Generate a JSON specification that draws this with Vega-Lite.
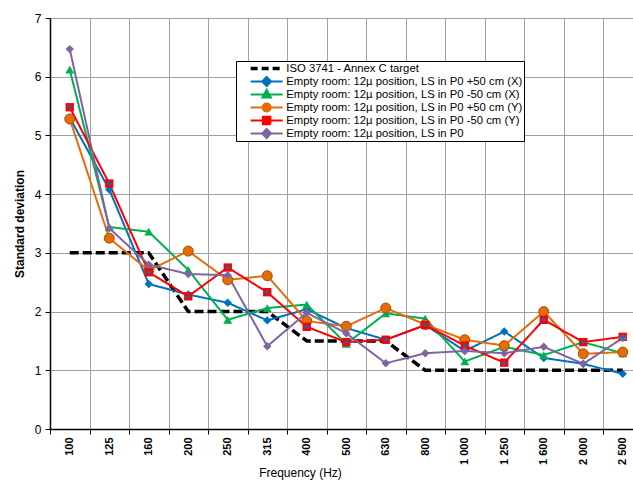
{
  "$schema": "https://vega.github.io/schema/vega-lite/v6.json",
  "width": 583,
  "height": 411,
  "autosize": {"type": "none"},
  "padding": {"left": 50, "top": 18, "right": 0, "bottom": 52},
  "background": "white",
  "config": {"view": {"stroke": null}, "font": "Liberation Sans"},
  "data": {"values": [
    {"f":"100","s":"ISO 3741 - Annex C target","v":3},
    {"f":"125","s":"ISO 3741 - Annex C target","v":3},
    {"f":"160","s":"ISO 3741 - Annex C target","v":3},
    {"f":"200","s":"ISO 3741 - Annex C target","v":2},
    {"f":"250","s":"ISO 3741 - Annex C target","v":2},
    {"f":"315","s":"ISO 3741 - Annex C target","v":2},
    {"f":"400","s":"ISO 3741 - Annex C target","v":1.5},
    {"f":"500","s":"ISO 3741 - Annex C target","v":1.5},
    {"f":"630","s":"ISO 3741 - Annex C target","v":1.5},
    {"f":"800","s":"ISO 3741 - Annex C target","v":1},
    {"f":"1 000","s":"ISO 3741 - Annex C target","v":1},
    {"f":"1 250","s":"ISO 3741 - Annex C target","v":1},
    {"f":"1 600","s":"ISO 3741 - Annex C target","v":1},
    {"f":"2 000","s":"ISO 3741 - Annex C target","v":1},
    {"f":"2 500","s":"ISO 3741 - Annex C target","v":1},
    {"f":"100","s":"Empty room: 12µ position, LS in P0 +50 cm (X)","v":5.3},
    {"f":"125","s":"Empty room: 12µ position, LS in P0 +50 cm (X)","v":4.08},
    {"f":"160","s":"Empty room: 12µ position, LS in P0 +50 cm (X)","v":2.47},
    {"f":"200","s":"Empty room: 12µ position, LS in P0 +50 cm (X)","v":2.29},
    {"f":"250","s":"Empty room: 12µ position, LS in P0 +50 cm (X)","v":2.15},
    {"f":"315","s":"Empty room: 12µ position, LS in P0 +50 cm (X)","v":1.85},
    {"f":"400","s":"Empty room: 12µ position, LS in P0 +50 cm (X)","v":2.04},
    {"f":"500","s":"Empty room: 12µ position, LS in P0 +50 cm (X)","v":1.72},
    {"f":"630","s":"Empty room: 12µ position, LS in P0 +50 cm (X)","v":1.52},
    {"f":"800","s":"Empty room: 12µ position, LS in P0 +50 cm (X)","v":1.77},
    {"f":"1 000","s":"Empty room: 12µ position, LS in P0 +50 cm (X)","v":1.33},
    {"f":"1 250","s":"Empty room: 12µ position, LS in P0 +50 cm (X)","v":1.66},
    {"f":"1 600","s":"Empty room: 12µ position, LS in P0 +50 cm (X)","v":1.21},
    {"f":"2 000","s":"Empty room: 12µ position, LS in P0 +50 cm (X)","v":1.11},
    {"f":"2 500","s":"Empty room: 12µ position, LS in P0 +50 cm (X)","v":0.94},
    {"f":"100","s":"Empty room: 12µ position, LS in P0 -50 cm (X)","v":6.12},
    {"f":"125","s":"Empty room: 12µ position, LS in P0 -50 cm (X)","v":3.44},
    {"f":"160","s":"Empty room: 12µ position, LS in P0 -50 cm (X)","v":3.36},
    {"f":"200","s":"Empty room: 12µ position, LS in P0 -50 cm (X)","v":2.71},
    {"f":"250","s":"Empty room: 12µ position, LS in P0 -50 cm (X)","v":1.86},
    {"f":"315","s":"Empty room: 12µ position, LS in P0 -50 cm (X)","v":2.06},
    {"f":"400","s":"Empty room: 12µ position, LS in P0 -50 cm (X)","v":2.12},
    {"f":"500","s":"Empty room: 12µ position, LS in P0 -50 cm (X)","v":1.45},
    {"f":"630","s":"Empty room: 12µ position, LS in P0 -50 cm (X)","v":1.97},
    {"f":"800","s":"Empty room: 12µ position, LS in P0 -50 cm (X)","v":1.88},
    {"f":"1 000","s":"Empty room: 12µ position, LS in P0 -50 cm (X)","v":1.15},
    {"f":"1 250","s":"Empty room: 12µ position, LS in P0 -50 cm (X)","v":1.4},
    {"f":"1 600","s":"Empty room: 12µ position, LS in P0 -50 cm (X)","v":1.26},
    {"f":"2 000","s":"Empty room: 12µ position, LS in P0 -50 cm (X)","v":1.48},
    {"f":"2 500","s":"Empty room: 12µ position, LS in P0 -50 cm (X)","v":1.29},
    {"f":"100","s":"Empty room: 12µ position, LS in P0 +50 cm (Y)","v":5.28},
    {"f":"125","s":"Empty room: 12µ position, LS in P0 +50 cm (Y)","v":3.25},
    {"f":"160","s":"Empty room: 12µ position, LS in P0 +50 cm (Y)","v":2.7},
    {"f":"200","s":"Empty room: 12µ position, LS in P0 +50 cm (Y)","v":3.03},
    {"f":"250","s":"Empty room: 12µ position, LS in P0 +50 cm (Y)","v":2.54},
    {"f":"315","s":"Empty room: 12µ position, LS in P0 +50 cm (Y)","v":2.61},
    {"f":"400","s":"Empty room: 12µ position, LS in P0 +50 cm (Y)","v":1.84},
    {"f":"500","s":"Empty room: 12µ position, LS in P0 +50 cm (Y)","v":1.75},
    {"f":"630","s":"Empty room: 12µ position, LS in P0 +50 cm (Y)","v":2.06},
    {"f":"800","s":"Empty room: 12µ position, LS in P0 +50 cm (Y)","v":1.78},
    {"f":"1 000","s":"Empty room: 12µ position, LS in P0 +50 cm (Y)","v":1.52},
    {"f":"1 250","s":"Empty room: 12µ position, LS in P0 +50 cm (Y)","v":1.42},
    {"f":"1 600","s":"Empty room: 12µ position, LS in P0 +50 cm (Y)","v":2.0},
    {"f":"2 000","s":"Empty room: 12µ position, LS in P0 +50 cm (Y)","v":1.28},
    {"f":"2 500","s":"Empty room: 12µ position, LS in P0 +50 cm (Y)","v":1.31},
    {"f":"100","s":"Empty room: 12µ position, LS in P0 -50 cm (Y)","v":5.48},
    {"f":"125","s":"Empty room: 12µ position, LS in P0 -50 cm (Y)","v":4.18},
    {"f":"160","s":"Empty room: 12µ position, LS in P0 -50 cm (Y)","v":2.67},
    {"f":"200","s":"Empty room: 12µ position, LS in P0 -50 cm (Y)","v":2.26},
    {"f":"250","s":"Empty room: 12µ position, LS in P0 -50 cm (Y)","v":2.75},
    {"f":"315","s":"Empty room: 12µ position, LS in P0 -50 cm (Y)","v":2.33},
    {"f":"400","s":"Empty room: 12µ position, LS in P0 -50 cm (Y)","v":1.74},
    {"f":"500","s":"Empty room: 12µ position, LS in P0 -50 cm (Y)","v":1.48},
    {"f":"630","s":"Empty room: 12µ position, LS in P0 -50 cm (Y)","v":1.52},
    {"f":"800","s":"Empty room: 12µ position, LS in P0 -50 cm (Y)","v":1.77},
    {"f":"1 000","s":"Empty room: 12µ position, LS in P0 -50 cm (Y)","v":1.42},
    {"f":"1 250","s":"Empty room: 12µ position, LS in P0 -50 cm (Y)","v":1.13},
    {"f":"1 600","s":"Empty room: 12µ position, LS in P0 -50 cm (Y)","v":1.86},
    {"f":"2 000","s":"Empty room: 12µ position, LS in P0 -50 cm (Y)","v":1.48},
    {"f":"2 500","s":"Empty room: 12µ position, LS in P0 -50 cm (Y)","v":1.57},
    {"f":"100","s":"Empty room: 12µ position, LS in P0","v":6.47},
    {"f":"125","s":"Empty room: 12µ position, LS in P0","v":3.42},
    {"f":"160","s":"Empty room: 12µ position, LS in P0","v":2.8},
    {"f":"200","s":"Empty room: 12µ position, LS in P0","v":2.64},
    {"f":"250","s":"Empty room: 12µ position, LS in P0","v":2.62},
    {"f":"315","s":"Empty room: 12µ position, LS in P0","v":1.41},
    {"f":"400","s":"Empty room: 12µ position, LS in P0","v":1.98},
    {"f":"500","s":"Empty room: 12µ position, LS in P0","v":1.63},
    {"f":"630","s":"Empty room: 12µ position, LS in P0","v":1.12},
    {"f":"800","s":"Empty room: 12µ position, LS in P0","v":1.29},
    {"f":"1 000","s":"Empty room: 12µ position, LS in P0","v":1.33},
    {"f":"1 250","s":"Empty room: 12µ position, LS in P0","v":1.29},
    {"f":"1 600","s":"Empty room: 12µ position, LS in P0","v":1.4},
    {"f":"2 000","s":"Empty room: 12µ position, LS in P0","v":1.11},
    {"f":"2 500","s":"Empty room: 12µ position, LS in P0","v":1.55}
  ]},
  "encoding": {
    "x": {
      "field": "f", "type": "ordinal", "sort": null,
      "scale": {"domain": ["100","125","160","200","250","315","400","500","630","800","1 000","1 250","1 600","2 000","2 500"], "range": [0, 592.5], "paddingInner": 0, "paddingOuter": 0},
      "axis": {
        "tickBand": "extent", "labelAngle": 270, "labelFontSize": 11, "labelFontWeight": "bold", "labelColor": "#000", "labelPadding": 3,
        "grid": true, "gridColor": "#a0a0a0", "gridWidth": 1,
        "domainColor": "#000", "domainWidth": 1.5, "tickColor": "#000", "tickSize": 5,
        "title": "Frequency (Hz)", "titleFontSize": 12, "titleFontWeight": "normal", "titleColor": "#000",
        "titleX": 250, "titleY": 47, "titleBaseline": "alphabetic", "titleAnchor": "middle"
      }
    },
    "y": {
      "field": "v", "type": "quantitative",
      "scale": {"domain": [0, 7], "nice": false},
      "axis": {
        "values": [0,1,2,3,4,5,6,7], "grid": true, "gridColor": "#a0a0a0", "gridWidth": 1,
        "domainColor": "#000", "domainWidth": 1.5, "tickColor": "#000", "tickSize": 5,
        "labelFontSize": 12, "labelColor": "#000", "labelPadding": 4,
        "title": "Standard deviation", "titleFontSize": 12, "titleFontWeight": "bold", "titleColor": "#000", "titlePadding": 8
      }
    }
  },
  "layer": [
    {
      "mark": {"type": "line", "strokeJoin": "round", "clip": false},
      "encoding": {
        "color": {
          "field": "s", "type": "nominal",
          "scale": {
            "domain": ["ISO 3741 - Annex C target","Empty room: 12µ position, LS in P0 +50 cm (X)","Empty room: 12µ position, LS in P0 -50 cm (X)","Empty room: 12µ position, LS in P0 +50 cm (Y)","Empty room: 12µ position, LS in P0 -50 cm (Y)","Empty room: 12µ position, LS in P0"],
            "range": ["#000000","#0070C0","#00B050","#E46C0A","#FF0000","#8064A2"]
          },
          "legend": {
            "orient": "none", "legendX": 186, "legendY": 43, "title": null,
            "padding": 1, "rowPadding": 0, "clipHeight": 13, "symbolOffset": 24, "labelOffset": 14,
            "strokeColor": "#000", "fillColor": "#fff",
            "labelFont": "Liberation Sans", "labelFontSize": 11.3, "labelColor": "#000", "labelLimit": 400,
            "symbolSize": 100,
            "encode": {"symbols": {"update": {
              "shape": {"signal": "datum.index===0 ? 'M-3.2,0H3.2' : (datum.index===1 || datum.index===5) ? 'M-3.2,0H3.2M0,-0.9L0.9,0L0,0.9L-0.9,0Z' : datum.index===2 ? 'M-3.2,0H3.2M0,-0.95L0.85,0.6L-0.85,0.6Z' : datum.index===3 ? 'M-3.2,0H3.2M0.8,0A0.8,0.8,0,1,1,-0.8,0A0.8,0.8,0,1,1,0.8,0Z' : 'M-3.2,0H3.2M-0.75,-0.75H0.75V0.75H-0.75Z'"},
              "size": {"value": 100},
              "stroke": {"scale": "color", "field": "value"},
              "fill": {"scale": "color", "field": "value"},
              "fillOpacity": {"value": 1},
              "strokeOpacity": {"value": 1},
              "opacity": {"value": 1},
              "strokeWidth": {"signal": "datum.index===0 ? 3.5 : 2"},
              "strokeDash": {"signal": "datum.index===0 ? [7,4] : [1,0]"}
            }}}
          }
        },
        "strokeDash": {"condition": {"test": "datum.s === 'ISO 3741 - Annex C target'", "value": [9, 4]}, "value": [1, 0]},
        "strokeWidth": {"condition": {"test": "datum.s === 'ISO 3741 - Annex C target'", "value": 3.5}, "value": 2}
      }
    },
    {
      "transform": [{"filter": "datum.s !== 'ISO 3741 - Annex C target'"}],
      "mark": {"type": "point", "filled": true, "opacity": 1, "stroke": "#A65005", "clip": false},
      "encoding": {
        "color": {"field": "s", "type": "nominal"},
        "shape": {
          "field": "s", "type": "nominal", "legend": null,
          "scale": {
            "domain": ["Empty room: 12µ position, LS in P0 +50 cm (X)","Empty room: 12µ position, LS in P0 -50 cm (X)","Empty room: 12µ position, LS in P0 +50 cm (Y)","Empty room: 12µ position, LS in P0 -50 cm (Y)","Empty room: 12µ position, LS in P0"],
            "range": ["diamond","triangle-up","circle","square","diamond"]
          }
        },
        "size": {"condition": [
          {"test": "datum.s === 'Empty room: 12µ position, LS in P0 +50 cm (Y)'", "value": 100},
          {"test": "datum.s === 'Empty room: 12µ position, LS in P0 -50 cm (X)'", "value": 80}
        ], "value": 70},
        "strokeWidth": {"condition": {"test": "datum.s === 'Empty room: 12µ position, LS in P0 +50 cm (Y)'", "value": 1}, "value": 0}
      }
    },
    {
      "transform": [{"filter": "datum.s === 'Empty room: 12µ position, LS in P0 -50 cm (Y)'"}],
      "mark": {"type": "point", "shape": "M-1,0H1M0,-1V1", "filled": false, "color": "#0070C0", "size": 30, "strokeWidth": 1.3, "opacity": 1, "clip": false}
    }
  ]
}
